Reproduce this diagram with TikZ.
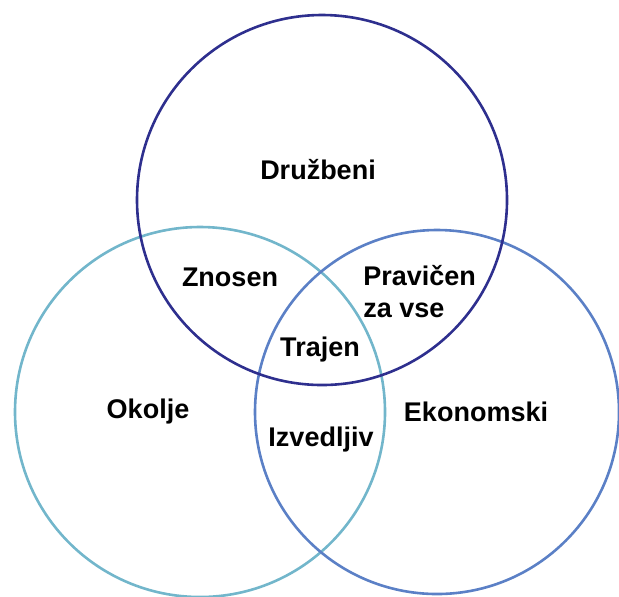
\documentclass[tikz,border=0pt]{standalone}
\usepackage{fontspec}
\setmainfont{Liberation Sans}
\usepackage{tikz}
\definecolor{cnavy}{HTML}{2E2F8E}
\definecolor{cteal}{HTML}{72B6CB}
\definecolor{cblue}{HTML}{5B80C6}
\tikzset{
 ring/.style={line width=1.3pt},
 lbl/.style={font=\bfseries\fontsize{13.5}{16}\selectfont,inner sep=0pt,align=center}
}
\begin{document}
\begin{tikzpicture}[x=0.5pt,y=-0.5pt]
 \useasboundingbox (0,0) rectangle (619,596);
 \draw[ring,draw=cteal] (200,412) circle[radius=185];
 \draw[ring,draw=cblue] (437,412) circle[radius=182];
 \draw[ring,draw=cnavy] (322,200) circle[radius=185];
 \node[lbl] (social) at (318,170) {Družbeni};
 \node[lbl] (bearable) at (230,277) {Znosen};
 \node[lbl,align=left,anchor=west] (equitable) at (363,292) {Pravičen\\za vse};
 \node[lbl] (sustainable) at (320,350) {Trajen};
 \node[lbl] (environment) at (148,412) {Okolje};
 \node[lbl] (economic) at (476,412) {Ekonomski};
 \node[lbl] (viable) at (321,440) {Izvedljiv};
\end{tikzpicture}
\end{document}
